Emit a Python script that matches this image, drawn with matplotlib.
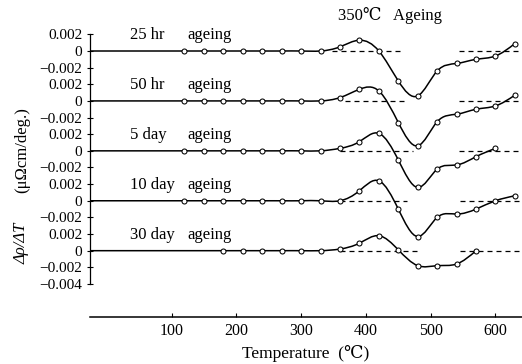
import numpy as np
import matplotlib
matplotlib.use("Agg")
import matplotlib.pyplot as plt
from matplotlib.path import Path
from matplotlib.patches import PathPatch

plt.rcParams['font.family'] = ['Liberation Serif', 'DejaVu Serif', 'Noto Sans CJK JP']

# ---------------- data ----------------
temps = [120, 150, 180, 210, 240, 270, 300, 330, 360, 390, 420, 450, 480, 510, 540, 570, 600, 630]
temps_5day = temps[:-1]
temps_30day = temps[2:16]

hr25 = [0, 0, 0, 0, 0, 0, 0, 0, 0.0005, 0.0013, 0.0, -0.0036, -0.0054, -0.0024, -0.0015, -0.0010, -0.0006, 0.0009]
hr50 = [0, 0, 0, 0, 0, 0, 0, 0, 0.0004, 0.0014, 0.0012, -0.0026, -0.0054, -0.0025, -0.0016, -0.0010, -0.0006, 0.0007]
day5 = [0, 0, 0, 0, 0, 0, 0, 0, 0.0003, 0.0011, 0.0021, -0.0011, -0.0044, -0.0022, -0.0017, -0.0007, 0.0003]
day10 = [0, 0, 0, 0, 0, 0, 0, 0, 0.0, 0.0012, 0.0024, -0.0010, -0.0043, -0.0020, -0.0016, -0.0010, 0.0, 0.0006]
day30 = [0, 0, 0, 0, 0, 0, 0.0002, 0.0009, 0.0018, 0.0001, -0.0018, -0.0018, -0.0016, 0.0]

series_temps = [temps, temps, temps_5day, temps, temps_30day]
series_vals = [hr25, hr50, day5, day10, day30]
prefix_labels = ["25 hr", "50 hr", "5 day", "10 day", "30 day"]
suffix_label = "ageing"
offsets = [0.0, -0.006, -0.012, -0.018, -0.024]
ytick_vals = [0.002, 0.0, -0.002]
ytick_labels = ["0.002", "0", "\u22120.002"]
extra_tick_val, extra_tick_label = -0.004, "\u22120.004"
xticks = [100, 200, 300, 400, 500, 600]

# where the dashed zero line is visible (°C)
dash_segments = [
    [(348, 458), (543, 640)],
    [(368, 461), (543, 640)],
    [(360, 473), (544, 640)],
    [(360, 464), (545, 640)],
    [(360, 485), (545, 640)],
]

# ---------------- figure ----------------
W, H = 522, 364
fig = plt.figure(figsize=(W / 100, H / 100), dpi=100)
ax = fig.add_axes([90 / W, 47 / H, 432 / W, 297 / H])
XL = (-25.8, 640.9)
ax.set_xlim(*XL)
ax.set_ylim(-0.03197, 0.003726)


def smooth_path(xs, ys, x0):
    """Cubic spline (clamped flat start, natural end) drawn as Bezier segments."""
    xs = np.asarray(xs, float)
    ys = np.asarray(ys, float)
    n = len(xs)
    A = np.zeros((n, n))
    r = np.zeros(n)
    A[0, 0] = 1.0
    for i in range(1, n - 1):
        A[i, i - 1], A[i, i], A[i, i + 1] = 1.0, 4.0, 1.0
        r[i] = 3.0 * (ys[i + 1] - ys[i - 1])
    A[n - 1, n - 2], A[n - 1, n - 1] = 1.0, 2.0
    r[n - 1] = 3.0 * (ys[n - 1] - ys[n - 2])
    m = np.linalg.solve(A, r)
    verts = [(x0, ys[0]), (xs[0], ys[0])]
    codes = [Path.MOVETO, Path.LINETO]
    for i in range(n - 1):
        dx = xs[i + 1] - xs[i]
        verts += [(xs[i] + dx / 3, ys[i] + m[i] / 3),
                  (xs[i + 1] - dx / 3, ys[i + 1] - m[i + 1] / 3),
                  (xs[i + 1], ys[i + 1])]
        codes += [Path.CURVE4] * 3
    return Path(verts, codes)


tfont = dict(fontsize=12)
for k in range(5):
    off = offsets[k]
    xs = series_temps[k]
    ys = [v + off for v in series_vals[k]]
    for a, b in dash_segments[k]:
        ax.plot([a, b], [off, off], color='black', lw=0.9, linestyle=(0, (4, 3.2)), zorder=1)
    p = smooth_path(xs, ys, XL[0])
    ax.add_patch(PathPatch(p, facecolor='none', edgecolor='black', lw=1.1, zorder=2))
    ax.plot(xs, ys, 'o', mfc='white', mec='black', ms=3.6, mew=0.75, zorder=3)
    ax.text(36, off + 0.0019, prefix_labels[k], ha='left', va='center', **tfont)
    ax.text(124, off + 0.0019, suffix_label, ha='left', va='center', **tfont)

# y ticks
yt, yl = [], []
for off in offsets:
    for v, l in zip(ytick_vals, ytick_labels):
        yt.append(off + v)
        yl.append(l)
yt.append(offsets[-1] + extra_tick_val)
yl.append(extra_tick_label)
ax.set_yticks(yt)
ax.set_yticklabels(yl, fontsize=11)
ax.tick_params(axis='y', direction='inout', length=5, width=0.8, pad=3)

ax.set_xticks(xticks)
ax.set_xticklabels([str(t) for t in xticks], fontsize=11.5)
ax.tick_params(axis='x', direction='in', length=3, width=0.8, pad=4)

for s in ['top', 'right']:
    ax.spines[s].set_visible(False)
ax.spines['left'].set_bounds(offsets[-1] + extra_tick_val, ytick_vals[0])
ax.spines['left'].set_linewidth(0.9)
ax.spines['bottom'].set_linewidth(1.1)

fig.text(390 / W, 1 - 15 / H, "350\u2103   Ageing", ha='center', va='center', fontsize=12)
fig.text(306 / W, 1 - 353 / H, "Temperature  (\u2103)", ha='center', va='center', fontsize=12.5)
fig.text(22 / W, 1 - 243 / H, "\u0394\u03c1/\u0394T", rotation=90, ha='center', va='center',
         fontsize=12, style='italic')
fig.text(22 / W, 1 - 150 / H, "(\u03bc\u03a9cm/deg.)", rotation=90, ha='center', va='center',
         fontsize=12)

fig.savefig("out.png", dpi=100)
